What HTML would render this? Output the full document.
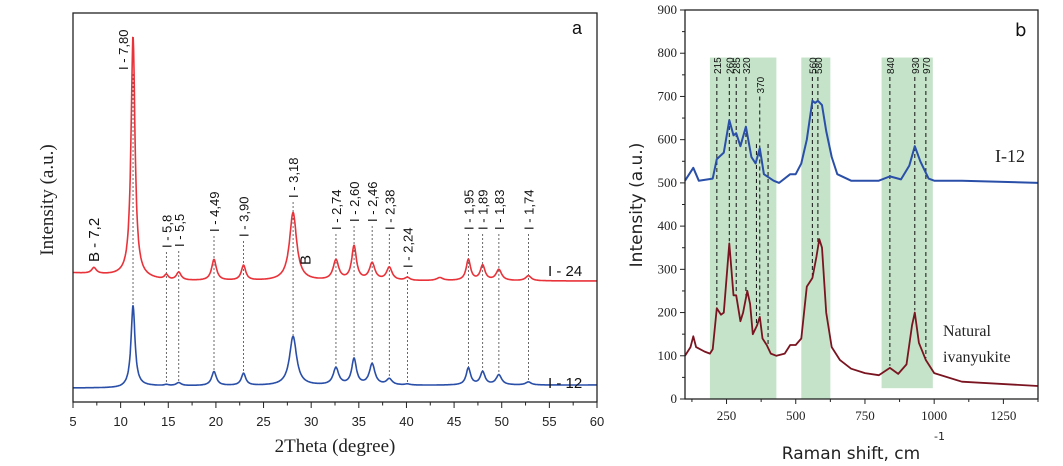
<!DOCTYPE html>
<html><head><meta charset="utf-8"><style>
html,body{margin:0;padding:0;background:#fff;}
svg{display:block;}
</style></head><body>
<svg id="fig" width="1063" height="466" xmlns="http://www.w3.org/2000/svg"></svg>
<script>
// ---------- Panel a data (XRD) ----------
const xrdPeakPos = [7.2, 11.3, 14.8, 16.1, 19.8, 22.9, 28.1, 32.6, 34.5, 36.4, 38.2, 40.1, 43.5, 46.5, 48.0, 49.7, 52.8];
const xrdPeakWidth = [0.3, 0.25, 0.25, 0.3, 0.3, 0.28, 0.45, 0.35, 0.3, 0.35, 0.35, 0.3, 0.4, 0.28, 0.3, 0.35, 0.35];
const redHeights = [6, 241, 5, 8, 21, 15, 68, 20, 34, 17, 13, 3, 3, 21, 15, 11, 5];
const blueHeights = [0, 81, 1, 3, 14, 12, 49, 17, 26, 21, 6, 1, 0, 17, 13, 10, 3];
const redBaseX = [5, 10, 15, 25, 35, 45, 60];
const redBaseY = [8, 5, 0, 0, 0, 0, 0];
const blueBaseX = [5, 10, 12, 60];
const blueBaseY = [-2, -2, 0, 1];
const redOffset = 281, blueOffset = 386; // pixel baselines for stacked traces
const xrdTicks = [5, 10, 15, 20, 25, 30, 35, 40, 45, 50, 55, 60];
const xrdLabels = ["B - 7,2","I - 7,80","I - 5,8","I - 5,5","I - 4,49","I - 3,90","I - 3,18","I - 2,74","I - 2,60","I - 2,46","I - 2,38","I - 2,24","","I - 1,95","I - 1,89","I - 1,83","I - 1,74"];
const xrdLabelBottom = [262, 70, 248, 247, 232, 237, 198, 230, 222, 222, 230, 268, 0, 230, 230, 230, 230];

// ---------- Panel b data (Raman) ----------
const ramanBlueX = [100,130,150,200,215,240,260,275,285,300,320,340,355,370,385,420,440,480,500,520,540,560,570,580,595,610,630,650,700,800,840,880,910,930,950,980,1000,1100,1375];
const ramanBlueY = [505,535,505,510,555,570,645,610,615,585,630,560,545,580,520,505,500,520,520,545,600,690,685,690,680,620,560,520,505,505,515,508,540,585,550,510,505,505,500];
const ramanRedX = [100,120,130,140,170,190,200,215,230,240,260,275,285,300,310,325,335,345,360,370,380,395,410,430,460,480,500,520,540,560,575,585,595,610,630,660,700,750,800,840,870,900,920,930,945,970,1000,1100,1375];
const ramanRedY = [100,120,145,120,110,105,115,210,195,200,360,240,240,180,200,250,220,150,170,190,140,125,105,100,105,125,125,140,260,280,330,370,350,200,120,90,70,60,55,72,58,80,170,200,130,90,60,40,30];
const ramanBands = [[190,430,0,790],[520,625,0,790],[810,995,25,790]];
const ramanLines = [215,260,285,320,358,370,400,560,580,840,930,970];
const ramanLineLabels = ["215","260","285","320","","370","","560","580","840","930","970"];
const ramanXTicks = [250,500,750,1000,1250];
const ramanYTicks = [0,100,200,300,400,500,600,700,800,900];

const NS="http://www.w3.org/2000/svg";
const svg=document.getElementById('fig');
function el(tag,attrs,parent){const e=document.createElementNS(NS,tag);for(const k in attrs)e.setAttribute(k,attrs[k]);(parent||svg).appendChild(e);return e;}
function interp(xs,ys,x){if(x<=xs[0])return ys[0];for(let i=1;i<xs.length;i++){if(x<=xs[i]){const t=(x-xs[i-1])/(xs[i]-xs[i-1]);return ys[i-1]+t*(ys[i]-ys[i-1]);}}return ys[ys.length-1];}

// ---------- Panel a ----------
const aL=73,aR=597,aT=13,aB=402;
const ax=v=>aL+(v-5)*(aR-aL)/55;
function xrdVal(x,heights){let s=0;for(let i=0;i<xrdPeakPos.length;i++){const d=(x-xrdPeakPos[i])/xrdPeakWidth[i];s+=heights[i]/(1+d*d);}return s;}
function xrdPath(heights,bx,by,off){let d='';for(let x=5;x<=60.001;x+=0.04){const y=off-interp(bx,by,x)-xrdVal(x,heights);d+=(d?'L':'M')+ax(x).toFixed(1)+','+y.toFixed(1);}return d;}
const ga=el('g',{});

xrdPeakPos.forEach((p,i)=>{
  if(i===0||!xrdLabels[i])return;
  const top=xrdLabelBottom[i]+4;
  const bot=blueOffset-interp(blueBaseX,blueBaseY,p)-xrdVal(p,blueHeights);
  const l=el('line',{x1:ax(p),x2:ax(p),y1:top,y2:Math.max(bot,top),stroke:'#444','stroke-width':0.8,'stroke-dasharray':'2,2'},ga);
  
});
const rp=el('path',{d:xrdPath(redHeights,redBaseX,redBaseY,redOffset),fill:'none',stroke:'#e8333a','stroke-width':1.6},ga);

const bp=el('path',{d:xrdPath(blueHeights,blueBaseX,blueBaseY,blueOffset),fill:'none',stroke:'#2a4fa8','stroke-width':1.6},ga);

xrdPeakPos.forEach((p,i)=>{
  if(!xrdLabels[i])return;
  const x=ax(p)+(i===1?-5:5),y=xrdLabelBottom[i];
  const t=el('text',{x:0,y:0,transform:`translate(${x},${y}) rotate(-90)`,'font-family':'Liberation Sans, sans-serif','font-size':i===0?15:13,fill:'#111'},ga);
  t.textContent=xrdLabels[i];
  
});
let bt=el('text',{x:0,y:0,transform:`translate(${ax(29.4)+5},265) rotate(-90)`,'font-family':'Liberation Sans, sans-serif','font-size':15,fill:'#111'},ga);bt.textContent='B';

let s1=el('text',{x:548,y:276,'font-family':'Liberation Sans, sans-serif','font-size':15,fill:'#111'},ga);s1.textContent='I - 24';

let s2=el('text',{x:548,y:388,'font-family':'Liberation Sans, sans-serif','font-size':15,fill:'#111'},ga);s2.textContent='I - 12';

let fa=el('rect',{x:aL,y:aT,width:aR-aL,height:aB-aT,fill:'none',stroke:'#222','stroke-width':1.3},ga);

xrdTicks.forEach(v=>{
  el('line',{x1:ax(v),x2:ax(v),y1:aB,y2:aB+6,stroke:'#222','stroke-width':1},ga);
  if(v<60) el('line',{x1:ax(v+2.5),x2:ax(v+2.5),y1:aB,y2:aB+3.5,stroke:'#222','stroke-width':1},ga);
  const t=el('text',{x:ax(v),y:426,'text-anchor':'middle','font-family':'Liberation Sans, sans-serif','font-size':13,fill:'#222'},ga);
  t.textContent=v;
});
let xa=el('text',{x:ax(32.5),y:452,'text-anchor':'middle','font-family':'Liberation Serif, serif','font-size':19,fill:'#222'},ga);xa.textContent='2Theta (degree)';

let ya=el('text',{x:0,y:0,transform:'translate(53,200) rotate(-90)','text-anchor':'middle','font-family':'Liberation Serif, serif','font-size':19,fill:'#222'},ga);ya.textContent='Intensity (a.u.)';

let pa=el('text',{x:572,y:34,'font-family':'Liberation Sans, sans-serif','font-size':18,fill:'#111'},ga);pa.textContent='a';


// ---------- Panel b ----------
const bL=685,bR=1038,bT=10,bB=399;
const bx=v=>bL+(v-100)*(bR-bL)/1275;
const by=v=>bB-v*(bB-bT)/900;
const gb=el('g',{});

ramanBands.forEach(b=>{
  const r=el('rect',{x:bx(b[0]),y:by(b[3]),width:bx(b[1])-bx(b[0]),height:by(b[2])-by(b[3]),fill:'#c4e3c8'},gb);
  
});
ramanLines.forEach((v,i)=>{
  const top=ramanLineLabels[i]? (v===370?by(700):by(745)) : by(590);
  const l=el('line',{x1:bx(v),x2:bx(v),y1:top,y2:by(interp(ramanRedX,ramanRedY,v)+5),stroke:'#111','stroke-width':1,'stroke-dasharray':'4,3'},gb);
  
  if(ramanLineLabels[i]){
    const t=el('text',{x:0,y:0,transform:`translate(${bx(v)+4},${top-3}) rotate(-90)`,'font-family':'Liberation Sans, sans-serif','font-size':10,fill:'#111'},gb);
    t.textContent=ramanLineLabels[i];
  }
});
function rpath(xs,ys){return xs.map((x,i)=>(i?'L':'M')+bx(x).toFixed(1)+','+by(ys[i]).toFixed(1)).join('');}
const rb=el('path',{d:rpath(ramanBlueX,ramanBlueY),fill:'none',stroke:'#2a4fa8','stroke-width':2,'stroke-linejoin':'round'},gb);

const rr=el('path',{d:rpath(ramanRedX,ramanRedY),fill:'none',stroke:'#7a1420','stroke-width':1.8,'stroke-linejoin':'round'},gb);

let fb=el('rect',{x:bL,y:bT,width:bR-bL,height:bB-bT,fill:'none',stroke:'#222','stroke-width':1.3},gb);

ramanYTicks.forEach(v=>{
  el('line',{x1:bL-5,x2:bL,y1:by(v),y2:by(v),stroke:'#222','stroke-width':1},gb);
  if(v<900) el('line',{x1:bL-3,x2:bL,y1:by(v+50),y2:by(v+50),stroke:'#222','stroke-width':1},gb);
  const t=el('text',{x:bL-8,y:by(v)+4,'text-anchor':'end','font-family':'Liberation Serif, serif','font-size':13,fill:'#222'},gb);
  t.textContent=v;
});
ramanXTicks.forEach(v=>{
  el('line',{x1:bx(v),x2:bx(v),y1:bB,y2:bB+5,stroke:'#222','stroke-width':1},gb);
  const t=el('text',{x:bx(v),y:420,'text-anchor':'middle','font-family':'Liberation Serif, serif','font-size':13,fill:'#222'},gb);
  t.textContent=v;
});
[125,375,625,875,1125,1375].forEach(v=>el('line',{x1:bx(v),x2:bx(v),y1:bB,y2:bB+3,stroke:'#222','stroke-width':1},gb));
let xb=el('text',{x:851,y:459,'text-anchor':'middle','font-family':'DejaVu Sans, sans-serif','font-size':17,fill:'#222'},gb);xb.textContent='Raman shift, cm';

let sup=el('text',{x:934,y:440,'font-family':'DejaVu Sans, sans-serif','font-size':11,fill:'#222'},gb);sup.textContent='-1';

let yb2=el('text',{x:0,y:0,transform:'translate(642,205) rotate(-90)','text-anchor':'middle','font-family':'DejaVu Sans, sans-serif','font-size':17,fill:'#222'},gb);yb2.textContent='Intensity (a.u.)';

let lb1=el('text',{x:995,y:162,'font-family':'Liberation Serif, serif','font-size':18,fill:'#222'},gb);lb1.textContent='I-12';

let lb2=el('text',{x:943,y:336,'font-family':'Liberation Serif, serif','font-size':16,fill:'#222'},gb);lb2.textContent='Natural';

let lb3=el('text',{x:943,y:362,'font-family':'Liberation Serif, serif','font-size':16,fill:'#222'},gb);lb3.textContent='ivanyukite';

let pb=el('text',{x:1015,y:36,'font-family':'DejaVu Sans, sans-serif','font-size':18,fill:'#111'},gb);pb.textContent='b';

</script>
</body></html>
